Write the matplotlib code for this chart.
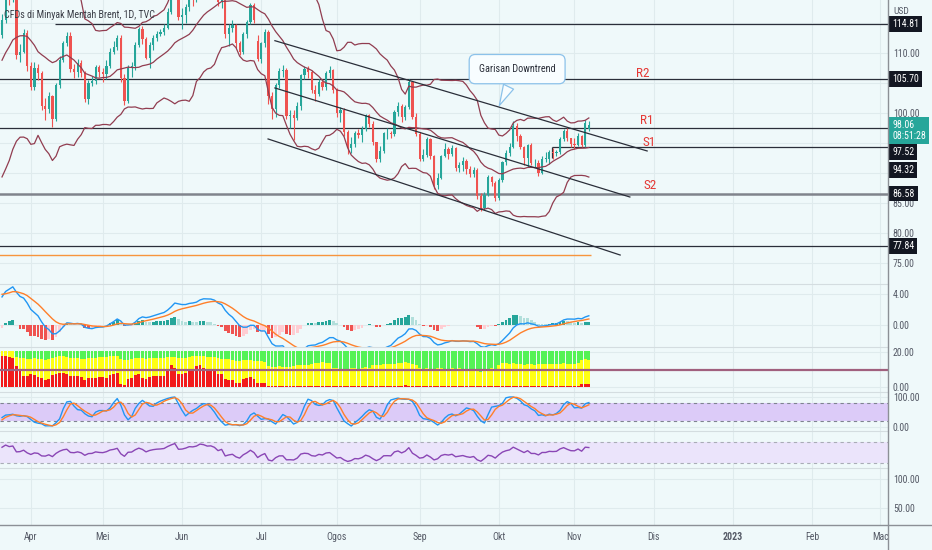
import numpy as np
import pandas as pd
import matplotlib
matplotlib.use('Agg')
import matplotlib.pyplot as plt
import matplotlib.font_manager as fm
from matplotlib.lines import Line2D
from matplotlib.transforms import Bbox, TransformedBbox

# ---- pick a narrow sans face if one is installed (TradingView labels are narrow) ----
pref = ['Liberation Sans Narrow', 'Roboto Condensed', 'Open Sans Condensed', 'Noto Sans',
        'Open Sans', 'Roboto', 'DejaVu Sans', 'Lato', 'Inter', 'Liberation Sans']
cond = {}
for f in fm.fontManager.ttflist:
    st = str(f.stretch).lower()
    nm = f.name
    if 'mono' in nm.lower() or 'serif' in nm.lower() or 'cjk' in nm.lower():
        continue
    if (st == 'condensed' or 'narrow' in nm.lower()) and f.style == 'normal':
        cond.setdefault(nm, f)
chosen = None
for p in pref:
    if p in cond:
        chosen = p
        break
if chosen is None and cond:
    chosen = sorted(cond)[0]
if chosen is not None:
    plt.rcParams['font.family'] = [chosen, 'DejaVu Sans']
    plt.rcParams['font.stretch'] = 'condensed'
    FS = 1.0
else:
    plt.rcParams['font.family'] = ['Liberation Sans', 'DejaVu Sans']
    FS = 0.84

# ---------------- data ----------------
title = "CFDs di Minyak Mentah Brent, 1D, TVC"

# closes before the visible window (only used to warm up the indicators)
pre_closes = [87.5, 88.4, 88.4, 87.9, 86.3, 88.2, 90.0, 89.3, 90.0, 91.2, 89.2, 89.5, 91.1, 93.3, 92.7,
              90.8, 91.6, 91.4, 94.4, 96.5, 93.3, 94.8, 93.0, 93.5, 95.4, 96.8, 96.8, 99.1, 97.9, 101.0,
              105.0, 112.9, 110.5, 118.1, 123.2, 128.0, 111.1, 109.3, 112.7, 106.9, 99.9, 98.0, 106.6, 107.9, 115.6]

opens = [113.0, 115.5, 121.6, 119.0, 120.6, 109.6, 110.2, 113.4, 107.9, 104.4,
         107.5, 106.6, 101.1, 100.6, 102.8, 99.0, 104.6, 108.8, 111.7, 112.9,
         107.3, 106.8, 108.3, 106.7, 102.3, 105.0, 105.3, 107.6, 106.8, 106.5,
         107.8, 110.1, 111.0, 112.5, 105.8, 102.0, 107.5, 107.8, 111.3, 114.0,
         112.4, 109.2, 111.3, 112.5, 113.2, 113.5, 114.1, 116.9, 119.4, 119.8,
         116.0, 116.3, 117.6, 119.7, 119.5, 120.6, 123.6, 123.1, 122.0, 122.3,
         121.2, 118.5, 119.8, 113.1, 114.1, 114.7, 111.7, 110.1, 113.1, 115.1,
         118.0, 112.0, 109.0, 111.6, 113.5, 102.8, 100.7, 104.6, 107.0, 107.1,
         99.5, 99.6, 99.1, 101.2, 106.3, 107.4, 106.9, 103.9, 103.2, 105.2,
         104.4, 106.6, 107.1, 103.9, 100.0, 100.5, 96.8, 94.1, 94.9, 96.7,
         96.3, 97.4, 99.6, 98.2, 95.1, 92.3, 93.7, 96.6, 96.7, 96.5,
         100.2, 101.2, 99.3, 101.0, 105.1, 99.3, 96.5, 92.4, 93.0, 95.7,
         92.8, 88.0, 89.2, 92.8, 94.0, 93.2, 94.1, 90.8, 91.4, 92.0,
         90.6, 89.8, 90.5, 86.2, 84.1, 86.3, 89.3, 88.3, 85.8, 88.9,
         91.8, 93.4, 94.4, 97.9, 96.2, 94.3, 92.5, 94.6, 91.6, 91.6,
         90.0, 92.4, 92.4, 93.5, 93.3, 93.5, 95.7, 97.0, 95.8, 94.8,
         94.7, 96.2, 94.7, 97.4]

highs = [116.5, 122.5, 122.0, 121.5, 121.0, 111.5, 114.0, 113.8, 108.5, 108.5,
         108.2, 107.0, 102.5, 103.5, 103.0, 105.0, 109.5, 112.0, 113.5, 113.5,
         108.2, 109.0, 108.8, 107.0, 105.5, 106.2, 108.0, 108.0, 107.5, 108.8,
         110.8, 112.0, 113.0, 113.0, 106.5, 108.0, 108.5, 111.8, 114.4, 114.5,
         112.6, 111.8, 113.0, 113.6, 114.0, 114.8, 117.5, 119.8, 122.0, 120.5,
         117.5, 118.2, 120.0, 120.5, 121.0, 124.0, 124.0, 123.5, 123.0, 123.0,
         121.5, 120.5, 119.9, 114.8, 115.5, 114.9, 112.0, 113.5, 115.5, 118.4,
         118.4, 113.0, 111.9, 114.0, 113.8, 103.5, 105.0, 107.5, 108.0, 107.5,
         100.5, 100.5, 101.8, 106.5, 107.8, 107.9, 107.2, 104.6, 105.6, 105.6,
         107.0, 107.8, 107.3, 104.2, 101.0, 100.8, 97.2, 96.0, 97.0, 97.4,
         97.8, 99.9, 99.8, 98.6, 95.2, 94.5, 96.9, 97.5, 97.0, 100.5,
         101.8, 101.5, 101.4, 105.6, 105.3, 100.0, 96.8, 94.0, 96.0, 95.9,
         93.0, 90.0, 93.0, 95.0, 94.4, 94.6, 94.3, 91.8, 92.6, 92.3,
         91.2, 91.0, 90.8, 86.6, 86.8, 89.7, 89.5, 88.6, 89.2, 92.0,
         93.8, 95.0, 98.6, 98.3, 96.5, 94.5, 94.9, 95.0, 92.3, 92.2,
         92.8, 93.5, 93.9, 94.2, 93.9, 96.0, 97.4, 97.5, 95.9, 95.8,
         96.6, 96.3, 98.8, 98.6]

lows = [112.5, 115.0, 118.0, 118.5, 109.0, 108.5, 110.0, 107.0, 103.9, 103.9,
        105.5, 100.5, 98.8, 100.0, 97.6, 98.7, 104.2, 108.5, 111.2, 106.8,
        105.8, 106.0, 106.0, 101.9, 101.5, 104.5, 104.8, 106.0, 105.2, 105.6,
        107.5, 109.8, 110.5, 105.2, 101.3, 101.7, 106.0, 107.2, 111.0, 111.5,
        109.0, 107.5, 110.5, 112.0, 112.8, 113.0, 114.0, 116.5, 119.0, 115.5,
        114.0, 115.0, 117.0, 117.8, 118.5, 120.0, 122.0, 121.0, 120.5, 120.5,
        117.8, 117.5, 112.5, 111.2, 113.5, 110.8, 109.7, 109.8, 112.5, 114.8,
        115.0, 108.6, 108.3, 111.0, 101.5, 99.0, 99.3, 104.2, 106.0, 99.0,
        97.5, 95.5, 98.8, 100.5, 105.6, 105.8, 103.3, 102.0, 102.8, 103.9,
        103.8, 105.9, 103.3, 99.4, 98.5, 96.2, 93.2, 93.4, 94.3, 95.8,
        95.2, 97.0, 97.6, 94.7, 91.9, 91.8, 93.4, 95.7, 95.9, 96.2,
        99.5, 98.5, 98.8, 100.6, 99.0, 96.2, 92.0, 92.0, 92.7, 92.4,
        87.4, 87.3, 89.0, 92.6, 92.4, 92.8, 90.4, 90.2, 90.4, 89.8,
        89.4, 89.3, 85.7, 83.6, 83.9, 86.1, 87.8, 85.4, 85.5, 88.5,
        91.4, 92.8, 94.2, 95.4, 94.0, 91.4, 91.0, 91.3, 91.0, 89.5,
        89.8, 91.8, 91.5, 92.4, 92.8, 93.2, 95.3, 95.4, 94.4, 94.0,
        94.5, 94.3, 94.4, 97.0]

closes = [115.5, 121.6, 119.0, 120.6, 109.6, 110.2, 113.4, 107.9, 104.4, 107.5,
          106.6, 101.1, 100.6, 102.8, 99.0, 104.6, 108.8, 111.7, 112.9, 107.3,
          106.8, 108.3, 106.7, 102.3, 105.0, 105.3, 107.6, 106.8, 106.5, 107.8,
          110.1, 111.0, 112.5, 105.8, 102.0, 107.5, 107.8, 111.3, 114.0, 112.4,
          109.2, 111.3, 112.5, 113.2, 113.5, 114.1, 116.9, 119.4, 121.7, 116.0,
          116.3, 117.6, 119.7, 119.5, 120.6, 123.6, 123.1, 122.0, 122.3, 121.2,
          118.5, 119.8, 113.1, 114.1, 114.7, 111.7, 110.1, 113.1, 115.1, 118.0,
          115.5, 109.0, 111.6, 113.5, 102.8, 100.7, 104.6, 107.0, 107.1, 99.5,
          99.6, 99.1, 101.2, 106.3, 107.4, 106.9, 103.9, 103.2, 105.2, 104.4,
          106.6, 107.1, 103.9, 100.0, 100.5, 96.8, 94.1, 94.9, 96.7, 96.3,
          97.4, 99.6, 98.2, 95.1, 92.3, 93.7, 96.6, 96.7, 96.5, 100.2,
          101.2, 99.3, 101.0, 105.1, 99.3, 96.5, 92.4, 93.0, 95.7, 92.8,
          88.0, 89.2, 92.8, 94.0, 93.2, 94.1, 90.8, 91.4, 92.0, 90.6,
          89.8, 90.5, 86.2, 84.1, 86.3, 89.3, 88.5, 85.8, 88.9, 91.8,
          93.4, 94.4, 97.9, 96.2, 94.3, 92.5, 94.6, 91.6, 91.6, 90.0,
          92.4, 92.4, 93.5, 93.3, 93.5, 95.7, 97.0, 95.8, 94.8, 94.7,
          96.2, 94.7, 98.3, 98.06]

# second indicator pane (stacked columns): red top, yellow top, overall top
red_top = [17.8, 17.5, 17.0, 16.6, 12.0, 10.2, 6.5, 6.0, 7.2, 7.0,
           5.8, 5.2, 4.2, 4.5, 6.8, 7.5, 7.8, 8.0, 7.4, 6.2,
           6.0, 6.5, 5.8, 4.2, 5.0, 5.2, 5.0, 5.5, 5.8, 5.4,
           7.0, 7.6, 7.8, 1.5, 1.2, 4.8, 5.2, 6.8, 7.2, 5.2,
           4.8, 5.8, 6.0, 6.2, 6.0, 6.4, 10.5, 12.5, 11.0, 7.6,
           7.4, 7.8, 9.5, 10.5, 12.0, 12.6, 10.6, 10.0, 10.2, 9.6,
           7.6, 7.4, 4.4, 4.0, 4.2, 2.4, 2.2, 4.6, 5.2, 5.6,
           4.8, 2.4, 2.0, 2.2, 0.35, 0.35, 0.35, 0.35, 0.35, 0.35,
           0.35, 0.35, 0.35, 0.35, 0.35, 0.35, 0.35, 0.35, 0.35, 0.35,
           0.35, 0.35, 0.35, 0.35, 0.35, 0.35, 0.35, 0.35, 0.35, 0.35,
           0.35, 0.35, 0.35, 0.35, 0.35, 0.35, 0.35, 0.35, 0.35, 0.35,
           0.35, 0.35, 1.3, 0.35, 0.35, 0.35, 0.35, 0.35, 0.35, 0.35,
           0.35, 0.35, 0.35, 0.35, 0.35, 0.35, 0.35, 0.35, 0.35, 0.35,
           0.35, 0.35, 0.35, 0.35, 0.35, 0.35, 0.35, 0.35, 0.35, 0.35,
           0.35, 0.35, 0.35, 0.35, 0.35, 0.35, 0.35, 0.35, 0.35, 0.35,
           0.35, 0.35, 0.35, 0.35, 0.35, 0.35, 0.35, 0.35, 0.35, 0.35,
           0.35, 1.6, 1.8, 1.6]

yellow_top = [20.3, 20.3, 20.3, 20.3, 17.2, 16.8, 16.6, 16.2, 16.0, 16.3,
              16.2, 15.8, 15.6, 16.0, 16.8, 17.4, 17.6, 17.8, 17.4, 16.8,
              16.4, 16.6, 16.2, 16.0, 16.4, 16.6, 16.8, 17.0, 17.0, 17.2,
              17.6, 17.8, 17.6, 16.2, 15.4, 15.6, 16.0, 16.4, 16.8, 16.6,
              16.2, 16.4, 16.6, 16.6, 16.8, 16.8, 17.0, 17.2, 17.0, 16.6,
              16.6, 16.8, 17.2, 17.6, 17.8, 17.8, 17.6, 17.4, 17.4, 17.2,
              16.4, 16.2, 16.0, 16.2, 15.4, 15.0, 14.8, 15.2, 15.4, 15.2,
              14.8, 14.6, 14.8, 14.4, 12.0, 11.6, 11.4, 11.8, 11.6, 11.2,
              11.4, 12.2, 12.6, 12.8, 12.6, 12.4, 13.4, 13.8, 14.0, 14.2,
              14.0, 13.8, 11.0, 10.6, 10.4, 10.2, 10.4, 10.8, 10.6, 10.4,
              10.8, 11.2, 11.0, 12.4, 12.6, 12.8, 13.0, 13.2, 13.0, 13.4,
              13.6, 13.8, 14.2, 13.8, 13.2, 12.8, 10.8, 10.4, 10.6, 10.2,
              10.4, 10.6, 10.8, 10.4, 10.2, 10.6, 10.4, 10.6, 10.2, 9.8,
              9.6, 9.4, 9.2, 8.8, 9.4, 10.2, 10.6, 10.4, 12.8, 13.6,
              13.8, 13.4, 13.6, 13.2, 13.0, 12.8, 13.2, 13.0, 12.8, 13.0,
              13.2, 13.4, 13.2, 13.0, 13.2, 13.4, 13.6, 13.4, 13.2, 13.4,
              13.8, 15.2, 15.8, 15.4]
column_total = 20.3
pane2_level = 10.0

# horizontal levels (price, first bar of the line)
level_prices = [114.81, 105.70, 97.52, 94.32, 86.58, 77.84]
level_starts = [14.7, -1.0, -1.0, 152.8, -1.0, -1.0]
orange_level = 76.3
current_price = 98.06
current_time = "08:51:28"

# downtrend channel (bar, price) endpoints
chan_upper = [(75.8, 112.05), (179.2, 93.67)]
chan_mid = [(75.8, 104.17), (174.4, 86.0)]
chan_lower = [(73.9, 95.67), (171.7, 76.33)]

sr_names = ["R2", "R1", "S1", "S2"]
sr_prices = [105.70, 97.52, 94.32, 86.58]
sr_bars = [178.0, 179.1, 179.7, 180.0]

callout_text = "Garisan Downtrend"
callout_point = (137.8, 100.83)

month_bars = [8, 28, 50, 72, 93, 116, 138, 159, 181, 203, 225, 244]
month_labels = ["Apr", "Mei", "Jun", "Jul", "Ogos", "Sep", "Okt", "Nov", "Dis", "2023", "Feb", "Mac"]

bb_len, bb_mult = 20, 2.3

# ---------------- indicators ----------------
n = len(closes)
x = np.arange(n)
full = pd.Series(pre_closes + closes, dtype=float)
npre = len(pre_closes)

mid = full.rolling(bb_len).mean()
sd = full.rolling(bb_len).std(ddof=0)
bb_up = (mid + bb_mult * sd).values[npre:]
bb_mid = mid.values[npre:]
bb_lo = (mid - bb_mult * sd).values[npre:]

ema12 = full.ewm(span=12, adjust=False).mean()
ema26 = full.ewm(span=26, adjust=False).mean()
macd = ema12 - ema26
signal = macd.ewm(span=9, adjust=False).mean()
hist = macd - signal
macd_v = macd.values[npre:]
sig_v = signal.values[npre:]
hist_full = hist.values
hist_v = hist_full[npre:]
hist_prev = hist_full[npre - 1:-1]

delta = full.diff()
gain = delta.clip(lower=0)
loss = -delta.clip(upper=0)
ag = gain.ewm(alpha=1 / 14, adjust=False).mean()
al = loss.ewm(alpha=1 / 14, adjust=False).mean()
rsi = 100 - 100 / (1 + ag / al)
lo14 = rsi.rolling(14).min()
hi14 = rsi.rolling(14).max()
st = 100 * (rsi - lo14) / (hi14 - lo14)
k = st.rolling(3).mean()
d = k.rolling(3).mean()
rsi_v = rsi.values[npre:]
k_v = k.values[npre:]
d_v = d.values[npre:]

# ---------------- figure ----------------
W, H = 932, 550
BG = '#eff9fa'
GRID = '#dfebed'
TXT = '#555a66'
LBL = 7.1 * FS
fig = plt.figure(figsize=(W / 100, H / 100), dpi=100)
fig.patch.set_facecolor(BG)
XR = 888

def pane(y0, y1, ylim, yticks, ylabels, top_sep=True):
    ax = fig.add_axes([0, 1 - y1 / H, XR / W, (y1 - y0) / H])
    ax.set_facecolor(BG)
    ax.set_xlim(-0.56, 246.1)
    ax.set_ylim(*ylim)
    for s in ax.spines.values():
        s.set_visible(False)
    if top_sep:
        ax.spines['top'].set_visible(True)
        ax.spines['top'].set_color('#d4dde0')
        ax.spines['top'].set_linewidth(0.8)
    ax.set_xticks(month_bars)
    ax.tick_params(axis='x', length=0, labelbottom=False)
    ax.yaxis.tick_right()
    ax.set_yticks(yticks)
    ax.set_yticklabels(ylabels)
    ax.tick_params(axis='y', length=0, pad=3.5, labelsize=LBL, labelcolor=TXT)
    ax.grid(True, color=GRID, lw=0.8)
    ax.set_axisbelow(True)
    return ax

# main pane
ax = pane(0, 284, (71.5, 118.83), [115, 110, 105, 100, 95, 90, 85, 80, 75],
          ['', '110.00', '', '100.00', '', '', '85.00', '80.00', '75.00'], top_sep=False)

up_c, dn_c = '#26a69a', '#ef5350'
o = np.array(opens); c = np.array(closes); hi = np.array(highs); lo = np.array(lows)
cols = [up_c if cc >= oo else dn_c for oo, cc in zip(o, c)]
ax.vlines(x, lo, hi, colors=cols, lw=0.8, zorder=3)
ax.bar(x, np.maximum(np.abs(c - o), 0.08), bottom=np.minimum(o, c), width=0.62,
       color=cols, edgecolor='none', zorder=3)

bbc = '#913d50'
ax.plot(x, bb_up, color=bbc, lw=0.9, zorder=4)
ax.plot(x, bb_mid, color=bbc, lw=0.9, zorder=4)
ax.plot(x, bb_lo, color=bbc, lw=0.9, zorder=4)

ax.hlines(orange_level, x[0] - 1, x[-1] + 0.5, color='#f7953d', lw=1.0, zorder=2)

for p, s0 in zip(level_prices, level_starts):
    colr, lw = ('#80848c', 1.8) if p == 86.58 else ('#2a2e39', 0.9)
    ax.hlines(p, s0, 246.1, color=colr, lw=lw, zorder=2)
ax.vlines(level_starts[3], 92.5, level_prices[3], color='#2a2e39', lw=0.9, zorder=2)

for seg in (chan_upper, chan_mid, chan_lower):
    (xa, ya), (xb, yb) = seg
    ax.plot([xa, xb], [ya, yb], color='#2a2e39', lw=0.9, zorder=5)

sr_offsets = [1.5, 4.0, 1.5, 5.0]
for name, pr, bx, off in zip(sr_names, sr_prices, sr_bars, sr_offsets):
    ax.annotate(name, xy=(bx, pr), xytext=(0, off * 0.72), textcoords='offset points',
                ha='center', va='baseline', fontsize=9.5 * FS, color='#e53935', zorder=6)

ax.annotate(callout_text, xy=callout_point, xytext=(13.7, 28), textcoords='offset points',
            ha='center', va='center', fontsize=7.3 * FS, color='#2a2e39', zorder=7,
            bbox=dict(boxstyle='round,pad=0.95,rounding_size=0.6', fc='#f8fdff', ec='#8cc2ea', lw=0.9),
            arrowprops=dict(arrowstyle='wedge,tail_width=1.1,shrink_factor=0.5',
                            fc='#f8fdff', ec='#8cc2ea', lw=0.9))

def pbox(val, text, fc, dy_px=0.0, tc='white'):
    ax.annotate(text, xy=(1, val), xycoords=('axes fraction', 'data'),
                xytext=(3.0, dy_px * 0.72), textcoords='offset points',
                ha='left', va='center', fontsize=LBL, color=tc, zorder=10,
                bbox=dict(boxstyle='square,pad=0.3', fc=fc, ec='none'),
                annotation_clip=False)

pbox(level_prices[0], '114.81', '#131722')
pbox(level_prices[1], '105.70', '#131722')
pbox(level_prices[2], '97.52', '#131722', dy_px=-24)
pbox(level_prices[3], '94.32', '#131722', dy_px=-23)
pbox(level_prices[4], '86.58', '#131722')
pbox(level_prices[5], '77.84', '#131722')
pbox(current_price, f'{current_price:.2f}\n{current_time}', '#26a69a', dy_px=-6)

fig.text(893 / W, 1 - 12 / H, 'USD', fontsize=6.8 * FS, color=TXT, va='center', ha='left')
fig.text(4 / W, 1 - 15 / H, title, fontsize=7.2 * FS, color='#3a3d46', va='center', ha='left')

# MACD pane
ax2 = pane(284, 347, (-2.84, 5.29), [4, 0], ['4.00', '0.00'])
hcols = []
for h, hp in zip(hist_v, hist_prev):
    if h >= 0:
        hcols.append('#26a69a' if h > hp else '#b2dfdb')
    else:
        hcols.append('#ffcdd2' if h > hp else '#ef5350')
ax2.bar(x, hist_v, width=0.75, color=hcols, edgecolor='none', zorder=2)
ax2.plot(x, macd_v, color='#2196f3', lw=1.0, zorder=3)
ax2.plot(x, sig_v, color='#ff7f2a', lw=1.0, zorder=3)

# stacked column pane
ax3 = pane(347, 392, (-2.86, 22.86), [20, 0], ['20.00', '0.00'])
rt = np.array(red_top); yt = np.array(yellow_top)
ax3.bar(x, rt, width=0.82, color='#f21b1b', edgecolor='none', zorder=2)
ax3.bar(x, yt - rt, bottom=rt, width=0.82, color='#ffff14', edgecolor='none', zorder=2)
ax3.bar(x, column_total - yt, bottom=yt, width=0.82, color='#55f255', edgecolor='none', zorder=2)
ax3.axhline(pane2_level, color='#a0607e', lw=1.6, zorder=3)

# Stoch RSI pane
ax4 = pane(392, 431, (-13.3, 116.7), [100, 0], ['100.00', '0.00'])
ax4.axhspan(20, 80, color='#dccbf8', lw=0, zorder=1)
ax4.axhline(80, color='#7f8390', lw=0.8, ls=(0, (3, 3)), zorder=2)
ax4.axhline(20, color='#7f8390', lw=0.8, ls=(0, (3, 3)), zorder=2)
ax4.plot(x, k_v, color='#2196f3', lw=1.0, zorder=3)
ax4.plot(x, d_v, color='#ff7f2a', lw=1.0, zorder=3)

# RSI pane
ax5 = pane(431, 468, (20.48, 90.95), [], [])
ax5.axhspan(30, 70, color='#ebe4fb', lw=0, zorder=1)
ax5.axhline(70, color='#a9acb6', lw=0.8, ls=(0, (3, 3)), zorder=2)
ax5.axhline(30, color='#a9acb6', lw=0.8, ls=(0, (3, 3)), zorder=2)
ax5.plot(x, rsi_v, color='#8a46b5', lw=1.0, zorder=3)

# last (empty) pane with time axis
ax6 = pane(468, 525, (20.69, 118.97), [100, 50], ['100.00', '50.00'])
ax6.tick_params(axis='x', labelbottom=True, labelsize=LBL, labelcolor=TXT, pad=5)
ax6.set_xticklabels(month_labels)
labs = ax6.get_xticklabels()
labs[9].set_fontweight('bold')
clipbox = TransformedBbox(Bbox([[0, 0], [XR / W, 1]]), fig.transFigure)
labs[11].set_clip_box(clipbox)
labs[11].set_clip_on(True)

# axis frame lines
fig.add_artist(Line2D([XR / W, XR / W], [0, 1], transform=fig.transFigure, color='#8c9096', lw=1))
fig.add_artist(Line2D([0, 1], [1 - 525 / H, 1 - 525 / H], transform=fig.transFigure, color='#8c9096', lw=1))

fig.savefig('out.png', dpi=100, facecolor=BG)
